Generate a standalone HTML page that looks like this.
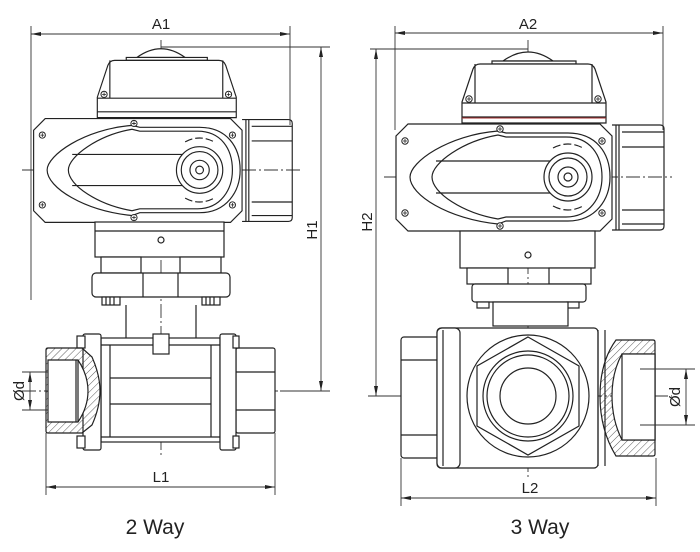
<!DOCTYPE html>
<html><head><meta charset="utf-8"><style>
html,body{margin:0;padding:0;background:#fff;}
svg{display:block;}
text{font-family:"Liberation Sans","DejaVu Sans",sans-serif;fill:#222;}
</style></head><body>
<svg width="700" height="552" viewBox="0 0 700 552" xmlns="http://www.w3.org/2000/svg">
<defs>
<marker id="ar" viewBox="0 0 10 6" refX="10" refY="3" markerWidth="10" markerHeight="6" orient="auto-start-reverse" markerUnits="userSpaceOnUse"><path d="M0,1 L10,3 L0,5 Z" fill="#222"/></marker>
<pattern id="hatch" width="5" height="5" patternUnits="userSpaceOnUse" patternTransform="rotate(45)"><line x1="0" y1="0" x2="0" y2="5" stroke="#333" stroke-width="0.8"/></pattern>
<g id="screw"><circle r="3.2" fill="#fff" stroke="#222" stroke-width="1"/><path d="M-2,0H2M0,-2V2" stroke="#222" stroke-width="0.8"/></g>
<g id="act" fill="#fff" stroke="#222" stroke-width="1.2">
  <path d="M-25,-116 Q0,-134 25,-116 Z"/>
  <path d="M-36,-116 H48 V-113 H-36Z"/>
  <path d="M-66,-75 L-55,-108 Q-53,-113 -48,-113 H60 Q65,-113 67,-108 L78,-75 V-54 H-66 Z"/>
  <path d="M-53,-113 V-74 M64,-113 V-74 M-66,-74 H78 M-66,-60 H78"/>
  <path d="M-120,-53 H72 L84,-41 V42 L72,54 H-120 L-132,42 V-41 Z"/>
  <path d="M84,-52 H132 Q136,-52 136,-48 V49 Q136,53 132,53 H84 M88,-52 V53 M91,-52 V53" fill="none"/>
  <path d="M94,-45 H136 M94,-30 H136 M94,33 H136 M94,47 H136" fill="none"/>
  <path d="M-30,-46 C-80,-42 -118,-15 -118,0 C-118,18 -80,42 -30,47 L-22,44 H40 C68,44 82,22 82,0 C82,-24 68,-44 40,-44 H-22 Z"/>
  <path d="M-30,-42 C-65,-36 -96,-14 -96,0 C-96,16 -65,36 -30,42 L-22,40 H38 C62,40 74,20 74,0 C74,-22 62,-40 38,-40 H-22 Z"/>
  <path d="M-92,-16 H50 M-92,16 H50" fill="none"/>
  <circle cx="40" cy="0" r="24"/><circle cx="40" cy="0" r="19"/><circle cx="40" cy="0" r="10"/><circle cx="40" cy="0" r="4"/>
  <path d="M25,-29 Q40,-37 55,-29 M25,29 Q40,37 55,29" fill="none" stroke-dasharray="8,3"/>
</g>
</defs>

<g stroke="#333" stroke-width="0.9" stroke-dasharray="14,3,2,3" fill="none">
  <path d="M161,40 V455"/><path d="M22,170 H300"/><path d="M22,391 H330"/>
  <path d="M528,40 V478"/><path d="M384,177 H672"/><path d="M368,396 H672"/>
</g>

<g transform="translate(161,170) scale(0.965,0.97)"><use href="#act"/>
<use href="#screw" x="-123" y="-36"/><use href="#screw" x="-123" y="36"/><use href="#screw" x="74" y="-36"/><use href="#screw" x="74" y="36"/><use href="#screw" x="-28" y="-48"/><use href="#screw" x="-28" y="49"/><use href="#screw" x="-59" y="-78"/><use href="#screw" x="70" y="-78"/></g>
<g fill="#fff" stroke="#222" stroke-width="1.2">
  <rect x="95" y="222" width="129" height="35"/><path d="M95,231 H224"/>
  <rect x="101" y="257" width="40" height="16"/><rect x="180" y="257" width="41" height="16"/>
  <rect x="92" y="273" width="138" height="24" rx="4"/><path d="M143,273 V297 M178,273 V297"/>
  <rect x="102" y="297" width="18" height="8"/><rect x="202" y="297" width="18" height="8"/>
  <path d="M106,297V305M110,297V305M114,297V305M206,297V305M210,297V305M214,297V305"/>
  <path d="M126,305 V338 M196,305 V338" fill="none"/>
  <circle cx="161" cy="240" r="3"/>
</g>
<g fill="#fff" stroke="#222" stroke-width="1.2">
  <rect x="101" y="338" width="119" height="104"/>
  <path d="M101,345 H220 M101,437 H220 M110,345 V437 M211,345 V437 M110,378 H211 M110,404 H211"/>
  <rect x="153" y="334" width="16" height="20"/>
  <rect x="236" y="348" width="39" height="85" rx="2"/><path d="M236,372 H275 M236,410 H275"/>
  <rect x="220" y="334" width="16" height="116" rx="2"/>
  <rect x="83" y="334" width="18" height="116" rx="2"/>
  <rect x="77" y="336" width="8" height="12"/><rect x="77" y="436" width="8" height="12"/>
  <rect x="233" y="336" width="6" height="12"/><rect x="233" y="436" width="6" height="12"/>
  <path d="M46,350 Q46,348 48,348 H82 L92,357 Q100,375 100,391 Q100,407 92,425 L82,433 H48 Q46,433 46,431 Z" fill="url(#hatch)"/>
  <path d="M48,360 H78 Q88,375 88,391 Q88,407 78,422 H48 Z" fill="#fff"/>
  <path d="M78,360 V422 M76,360 V422" fill="none"/>
</g>

<g transform="translate(528,177)"><use href="#act"/>
<use href="#screw" x="-123" y="-36"/><use href="#screw" x="-123" y="36"/><use href="#screw" x="74" y="-36"/><use href="#screw" x="74" y="36"/><use href="#screw" x="-28" y="-48"/><use href="#screw" x="-28" y="49"/><use href="#screw" x="-59" y="-78"/><use href="#screw" x="70" y="-78"/></g>
<path d="M462,118 H606" stroke="#a33" stroke-width="1"/>
<g fill="#fff" stroke="#222" stroke-width="1.2">
  <rect x="460" y="231" width="135" height="37"/>
  <rect x="467" y="268" width="41" height="16"/><rect x="549" y="268" width="42" height="16"/>
  <rect x="472" y="284" width="114" height="18" rx="3"/>
  <rect x="477" y="302" width="12" height="6"/><rect x="567" y="302" width="12" height="6"/>
  <rect x="493" y="302" width="75" height="24"/>
  <circle cx="528" cy="255" r="3"/>
</g>
<g fill="#fff" stroke="#222" stroke-width="1.2">
  <rect x="401" y="337" width="38" height="121" rx="3"/><path d="M401,360 H439 M401,435 H439"/>
  <rect x="437" y="328" width="161" height="140" rx="4"/>
  <rect x="437" y="328" width="23" height="140" rx="5"/><path d="M443,330 V466"/>
  <circle cx="528" cy="396" r="61" fill="none"/>
  <polygon points="528,337 579,366 579,426 528,455 477,426 477,366"/>
  <circle cx="528" cy="396" r="45"/><circle cx="528" cy="396" r="41"/><circle cx="528" cy="396" r="28"/>
  <path d="M598,330 V466 M605,330 V466" fill="none"/>
  <path d="M616,340 H653 Q655,340 655,342 V454 Q655,456 653,456 H616 Q600,430 600,396 Q600,362 616,340 Z" fill="url(#hatch)"/>
  <path d="M622,354 H655 V440 H622 Q612,420 612,396 Q612,372 622,354 Z" fill="#fff"/>
  <rect x="622" y="354" width="33" height="86"/>
</g>

<g stroke="#333" stroke-width="0.9" fill="none">
  <path d="M31,26 V300 M290,26 V125"/>
  <path d="M31,34 H290" marker-start="url(#ar)" marker-end="url(#ar)"/>
  <path d="M161,47 H330 M280,391 H330"/>
  <path d="M321,47 V391" marker-start="url(#ar)" marker-end="url(#ar)"/>
  <path d="M46,433 V495 M275,433 V495"/>
  <path d="M46,487 H275" marker-start="url(#ar)" marker-end="url(#ar)"/>
  <path d="M22,372 H48 M22,410 H48"/>
  <path d="M30,372 V410" marker-start="url(#ar)" marker-end="url(#ar)"/>
  <path d="M395,26 V130 M663,26 V130"/>
  <path d="M395,33 H663" marker-start="url(#ar)" marker-end="url(#ar)"/>
  <path d="M370,49 H528 M370,396 H400"/>
  <path d="M376,49 V396" marker-start="url(#ar)" marker-end="url(#ar)"/>
  <path d="M401,458 V506 M656,458 V506"/>
  <path d="M401,498 H656" marker-start="url(#ar)" marker-end="url(#ar)"/>
  <path d="M640,369 H695 M640,425 H695"/>
  <path d="M686,369 V425" marker-start="url(#ar)" marker-end="url(#ar)"/>
</g>
<g font-size="15">
  <text x="161" y="29" text-anchor="middle">A1</text>
  <text x="528" y="29" text-anchor="middle">A2</text>
  <text x="161" y="482" text-anchor="middle">L1</text>
  <text x="530" y="493" text-anchor="middle">L2</text>
  <text transform="translate(317,230) rotate(-90)" text-anchor="middle">H1</text>
  <text transform="translate(372,222) rotate(-90)" text-anchor="middle">H2</text>
  <text transform="translate(24,391) rotate(-90)" text-anchor="middle">Ød</text>
  <text transform="translate(680,397) rotate(-90)" text-anchor="middle">Ød</text>
</g>
<text x="155" y="534" font-size="21" text-anchor="middle">2 Way</text>
<text x="540" y="534" font-size="21" text-anchor="middle">3 Way</text>
</svg>
</body></html>
